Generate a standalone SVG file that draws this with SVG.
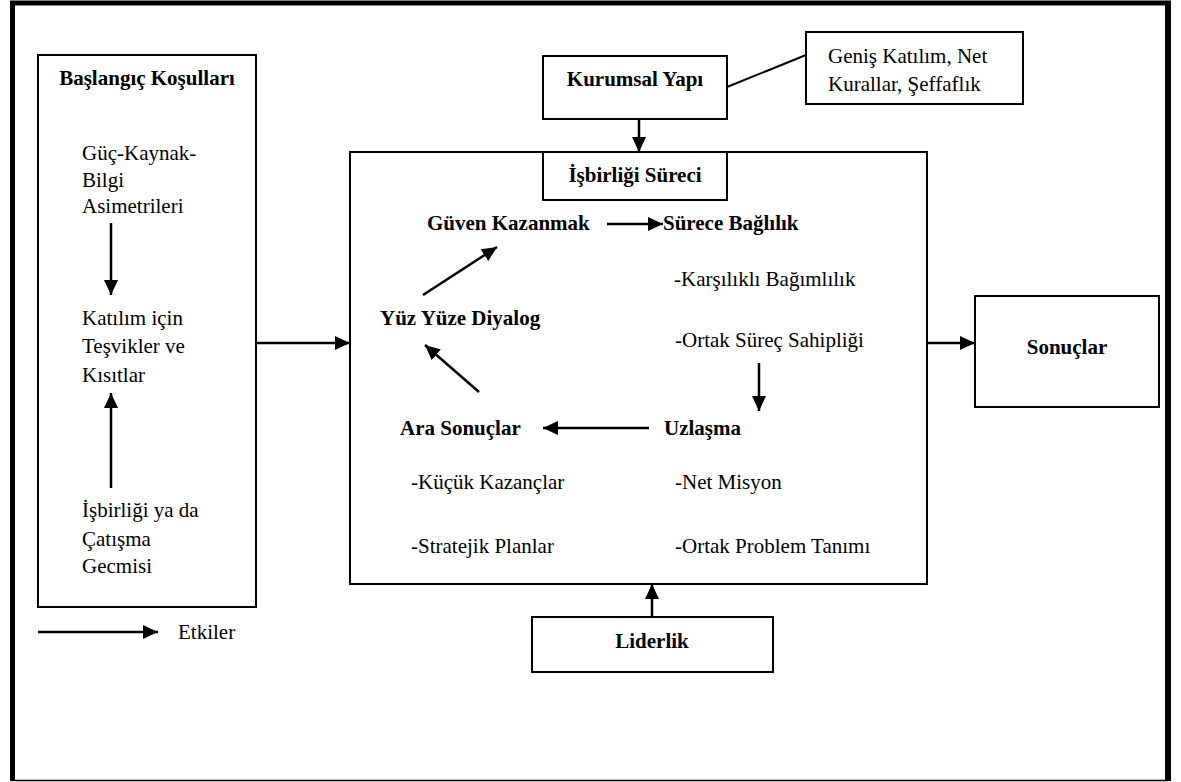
<svg xmlns="http://www.w3.org/2000/svg" width="1181" height="782" viewBox="0 0 1181 782">
  <style>
    .box { fill: #fff; stroke: #000; stroke-width: 2; }
    .t { font-family: 'Liberation Serif', 'DejaVu Serif', serif; font-size: 21px; fill: #000; }
    .b { font-weight: bold; }
    .c { text-anchor: middle; }
    .arr { stroke: #000; stroke-width: 2.5; fill: none; marker-end: url(#head); }
    .ln { stroke: #000; stroke-width: 2; fill: none; }
  </style>
  <defs>
    <marker id="head" markerUnits="userSpaceOnUse" markerWidth="16" markerHeight="14" refX="15" refY="7" orient="auto">
      <path d="M0,0 L15,7 L0,14 z" fill="#000"/>
    </marker>
  </defs>
  <rect width="1181" height="782" fill="#fff"/>

  <!-- page frame -->
  <g id="frame" stroke="#000" fill="none">
    <line x1="10" y1="3" x2="1171" y2="3" stroke-width="5"/>
    <line x1="12.5" y1="1" x2="12.5" y2="781" stroke-width="5"/>
    <line x1="1168" y1="1" x2="1168" y2="781" stroke-width="6"/>
    <line x1="12" y1="780.5" x2="1168" y2="780.5" stroke-width="1.5"/>
  </g>

  <g font-family="'Liberation Serif', 'DejaVu Serif', serif">
  <!-- starting conditions -->
  <g id="baslangic">
    <rect class="box" x="38" y="55" width="218" height="552"/>
    <text class="t b c" x="147" y="85">Başlangıç Koşulları</text>
    <text class="t" x="82" y="160">Güç-Kaynak-</text>
    <text class="t" x="82" y="187">Bilgi</text>
    <text class="t" x="82" y="213">Asimetrileri</text>
    <text class="t" x="82" y="325">Katılım için</text>
    <text class="t" x="82" y="353">Teşvikler ve</text>
    <text class="t" x="82" y="382">Kısıtlar</text>
    <text class="t" x="82" y="517">İşbirliği ya da</text>
    <text class="t" x="82" y="546">Çatışma</text>
    <text class="t" x="82" y="573">Gecmisi</text>
  </g>

  <!-- legend -->
  <g id="legend">
    <line class="arr" x1="38" y1="632" x2="158" y2="632"/>
    <text class="t" x="178" y="639">Etkiler</text>
  </g>

  <!-- institutional design -->
  <g id="kurumsal">
    <rect class="box" x="543" y="56" width="184" height="63"/>
    <text class="t b c" x="635" y="86">Kurumsal Yapı</text>
  </g>
  <g id="genis">
    <rect class="box" x="806" y="32" width="217" height="72"/>
    <text class="t" x="828" y="63">Geniş Katılım, Net</text>
    <text class="t" x="828" y="91">Kurallar, Şeffaflık</text>
  </g>

  <!-- collaborative process -->
  <g id="surec">
    <rect class="box" x="350" y="152" width="577" height="432"/>
    <rect class="box" x="543" y="152" width="184" height="48"/>
    <text class="t b c" x="635" y="182">İşbirliği Süreci</text>
  </g>
  <g id="guven"><text class="t b" x="427" y="230">Güven Kazanmak</text></g>
  <g id="baglilik">
    <text class="t b" x="663" y="230">Sürece Bağlılık</text>
    <text class="t" x="674" y="286">-Karşılıklı Bağımlılık</text>
    <text class="t" x="675" y="347">-Ortak Süreç Sahipliği</text>
  </g>
  <g id="diyalog"><text class="t b" x="380" y="325">Yüz Yüze Diyalog</text></g>
  <g id="ara">
    <text class="t b" x="400" y="435">Ara Sonuçlar</text>
    <text class="t" x="411" y="489">-Küçük Kazançlar</text>
    <text class="t" x="411" y="553">-Stratejik Planlar</text>
  </g>
  <g id="uzlasma">
    <text class="t b" x="664" y="435">Uzlaşma</text>
    <text class="t" x="675" y="489">-Net Misyon</text>
    <text class="t" x="675" y="553">-Ortak Problem Tanımı</text>
  </g>

  <!-- outcomes -->
  <g id="sonuclar">
    <rect class="box" x="975" y="296" width="184" height="111"/>
    <text class="t b c" x="1067" y="354">Sonuçlar</text>
  </g>

  <!-- leadership -->
  <g id="liderlik">
    <rect class="box" x="532" y="617" width="241" height="55"/>
    <text class="t b c" x="652" y="648">Liderlik</text>
  </g>
  </g>

  <!-- connectors -->
  <g id="connectors">
    <line class="arr" x1="111" y1="223" x2="111" y2="295"/>
    <line class="arr" x1="111" y1="488" x2="111" y2="393"/>
    <line class="arr" x1="256" y1="343" x2="350" y2="343"/>
    <line class="arr" x1="639" y1="119" x2="639" y2="152"/>
    <line class="ln" x1="727" y1="87" x2="806" y2="55"/>
    <line class="arr" x1="607" y1="224" x2="663" y2="224"/>
    <line class="arr" x1="423" y1="295" x2="497" y2="247"/>
    <line class="arr" x1="759" y1="363" x2="759" y2="411"/>
    <line class="arr" x1="649" y1="428" x2="543" y2="428"/>
    <line class="arr" x1="479" y1="392" x2="425" y2="345"/>
    <line class="arr" x1="927" y1="343" x2="975" y2="343"/>
    <line class="arr" x1="652" y1="617" x2="652" y2="584"/>
  </g>
</svg>
